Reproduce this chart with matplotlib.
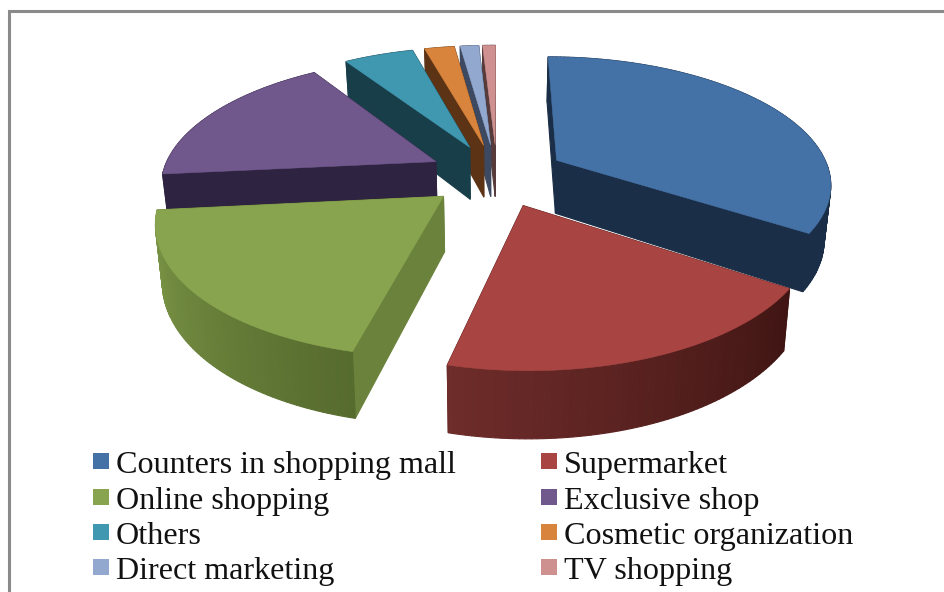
import numpy as np
import matplotlib
matplotlib.use('Agg')
import matplotlib.pyplot as plt
from matplotlib.patches import Polygon, Rectangle

# share of each sales channel, percent, clockwise from 12 o'clock
labels = ['Counters in shopping mall', 'Supermarket', 'Online shopping', 'Exclusive shop',
          'Others', 'Cosmetic organization', 'Direct marketing', 'TV shopping']
values = [34.3, 19.5, 19.6, 17.4, 4.9, 2.1, 1.3, 0.9]

top_colors = ['#4471a6', '#a84442', '#88a44e', '#70578c', '#4098b0', '#d9843c', '#93a8cf', '#cf9090']
radial_colors = ['#1a2e47', '#4a1a18', '#6b823c', '#2e2340', '#183e4a', '#5c3415', '#3c4960', '#573a3a']
# outer wall shade, from the clockwise start of the slice to its end
wall_start = ['#1a2e47', '#3f1513', '#566b2e', '#2e2340', '#183e4a', '#5c3415', '#3c4960', '#573a3a']
wall_end = ['#1a2e47', '#6e2c2a', '#7f9a49', '#2e2340', '#183e4a', '#5c3415', '#3c4960', '#573a3a']

# pie geometry in pixels
cx, cy = 497.0, 175.0
radius = 274.0
explode = 69.0
depth = 54.0
cam = 1624.0
tilt = 0.458


def project(x, y, z=0.0):
    s = cam / (cam + y)
    shrink = 1.0 - 0.02 * (z / depth)
    return cx + x * s * shrink, cy + (-y * tilt + z) * s


def to_rgb(c):
    return np.array(matplotlib.colors.to_rgb(c))


fig = plt.figure(figsize=(9.44, 5.92), dpi=100)
ax = fig.add_axes([0, 0, 1, 1])
ax.set_xlim(0, 944)
ax.set_ylim(592, 0)
ax.axis('off')

# frame of the pasted chart, open at the bottom
ax.plot([8.5, 8.5, 944], [592, 10.5, 10.5], color='#8a8a8a', lw=2.2, solid_joinstyle='miter')

edges = 90.0 - 3.6 * np.cumsum([0] + values)
order = []
for i in range(len(values)):
    mid = np.radians((edges[i] + edges[i + 1]) / 2)
    order.append((explode * np.sin(mid), i))
order.sort(reverse=True)

for off_y, i in order:
    mid = np.radians((edges[i] + edges[i + 1]) / 2)
    ox, oy = explode * np.cos(mid), explode * np.sin(mid)
    ang = np.radians(np.linspace(edges[i], edges[i + 1], max(int(abs(edges[i + 1] - edges[i])), 6)))
    rx = ox + radius * np.cos(ang)
    ry = oy + radius * np.sin(ang)

    faces = []
    # the two cut faces
    for k in [0, -1]:
        quad = [project(ox, oy), project(rx[k], ry[k]), project(rx[k], ry[k], depth), project(ox, oy, depth)]
        faces.append(((oy + ry[k]) / 2, quad, radial_colors[i]))
    # outer wall in small strips so it can carry a shade
    c0, c1 = to_rgb(wall_start[i]), to_rgb(wall_end[i])
    for k in range(len(ang) - 1):
        t = k / max(len(ang) - 2, 1)
        quad = [project(rx[k], ry[k]), project(rx[k + 1], ry[k + 1]),
                project(rx[k + 1], ry[k + 1], depth), project(rx[k], ry[k], depth)]
        faces.append(((ry[k] + ry[k + 1]) / 2, quad, c0 + (c1 - c0) * t))
    faces.sort(key=lambda f: -f[0])
    for _, quad, col in faces:
        ax.add_patch(Polygon(quad, closed=True, facecolor=col, edgecolor=col, lw=0.8))

    top = [project(ox, oy)] + [project(a, b) for a, b in zip(rx, ry)]
    ax.add_patch(Polygon(top, closed=True, facecolor=top_colors[i], edgecolor=top_colors[i], lw=0.4))

# legend, two columns filled row by row
row_y = [461, 497, 532, 567]
col_x = [93, 541]
for i, name in enumerate(labels):
    x0 = col_x[i % 2]
    y0 = row_y[i // 2]
    ax.add_patch(Rectangle((x0, y0 - 8), 16, 16, facecolor=top_colors[i], edgecolor='none'))
    ax.text(x0 + 23, y0 + 1, name, family='Liberation Serif', fontsize=23.1, color='#111111',
            ha='left', va='center_baseline')

fig.savefig('out.png', dpi=100)
